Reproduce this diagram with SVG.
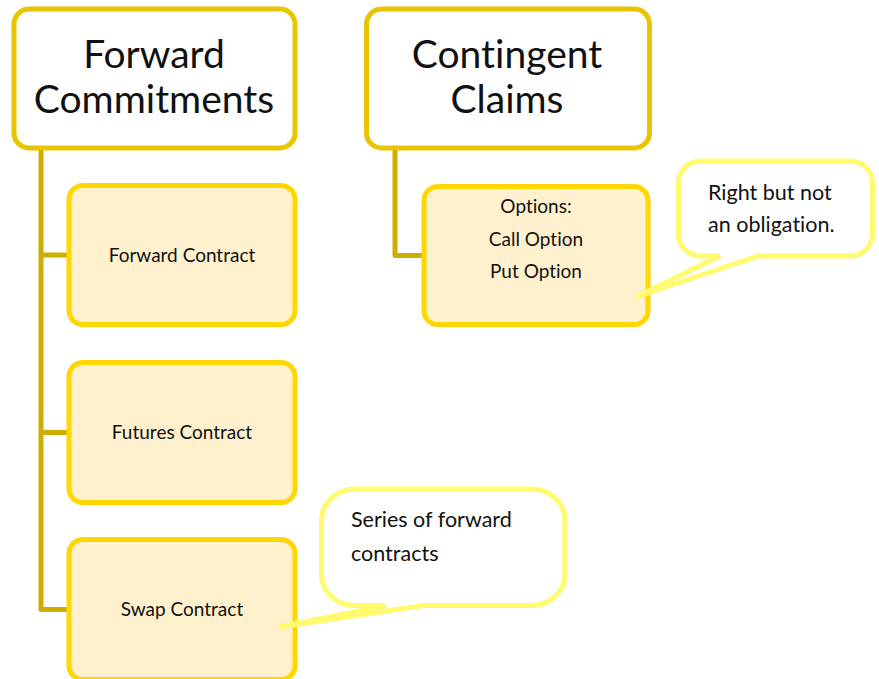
<svg xmlns="http://www.w3.org/2000/svg" width="879" height="679" viewBox="0 0 879 679">
  <style>
    .head { fill: #FFFFFF; stroke: #E8C500; stroke-width: 5; }
    .item { fill: #FFF1CD; stroke: #FFD700; stroke-width: 5; }
    .link { fill: none; stroke: #CDAE00; stroke-width: 5; stroke-linejoin: round; stroke-linecap: butt; }
    .note { fill: #FFFFFF; stroke: #FFFA6E; stroke-width: 5; stroke-linejoin: miter; stroke-miterlimit: 4; }
    text { font-family: Lato, "Open Sans", "Liberation Sans", sans-serif; fill: #111111; font-variant-ligatures: none; font-feature-settings: "liga" 0, "dlig" 0, "clig" 0; }
    .title { font-size: 39px; text-anchor: middle; }
    .label { font-size: 19px; text-anchor: middle; }
    .callout { font-size: 21.5px; }
  </style>

  <!-- tree connectors -->
  <g id="connectors">
    <path class="link" d="M 41 150 V 609.5 H 69"/>
    <path class="link" d="M 41 255 H 69"/>
    <path class="link" d="M 41 432.5 H 69"/>
    <path class="link" d="M 395 150 V 255.5 H 424"/>
  </g>

  <!-- top-level categories -->
  <g id="forward-commitments">
    <rect class="head" x="14" y="9" width="281" height="139" rx="15"/>
    <text class="title" x="154" y="68">Forward</text>
    <text class="title" x="154" y="113">Commitments</text>
  </g>

  <g id="contingent-claims">
    <rect class="head" x="366.5" y="9" width="283" height="139" rx="15"/>
    <text class="title" x="507" y="68">Contingent</text>
    <text class="title" x="507" y="113">Claims</text>
  </g>

  <!-- forward commitment instruments -->
  <g id="forward-contract">
    <rect class="item" x="69" y="185.5" width="226" height="139" rx="14"/>
    <text class="label" x="182" y="262">Forward Contract</text>
  </g>

  <g id="futures-contract">
    <rect class="item" x="69" y="362.5" width="226" height="140" rx="14"/>
    <text class="label" x="182" y="439">Futures Contract</text>
  </g>

  <g id="swap-contract">
    <rect class="item" x="69" y="539.5" width="226" height="140" rx="14"/>
    <text class="label" x="182" y="616">Swap Contract</text>
  </g>

  <!-- contingent claim instruments -->
  <g id="options">
    <rect class="item" x="424" y="186.5" width="224" height="138" rx="14"/>
    <text class="label" x="536" y="213">Options:</text>
    <text class="label" x="536" y="246">Call Option</text>
    <text class="label" x="536" y="278">Put Option</text>
  </g>

  <!-- callouts -->
  <g id="callout-options">
    <path class="note" d="M 700.5 161 H 850.5 A 22 22 0 0 1 872.5 183 V 234 A 22 22 0 0 1 850.5 256 H 758 L 636 297 L 720 256 H 700.5 A 22 22 0 0 1 678.5 234 V 183 A 22 22 0 0 1 700.5 161 Z"/>
    <text class="callout" x="708" y="200">Right but not</text>
    <text class="callout" x="708" y="232">an obligation.</text>
  </g>

  <g id="callout-swap">
    <path class="note" d="M 356 489 H 531 A 34 31 0 0 1 565 520 V 575 A 34 31 0 0 1 531 605.5 H 423 L 279 627 L 386 605.5 H 356 A 34 31 0 0 1 321.5 575 V 520 A 34 31 0 0 1 356 489 Z"/>
    <text class="callout" x="351" y="527">Series of forward</text>
    <text class="callout" x="351" y="561">contracts</text>
  </g>
</svg>
